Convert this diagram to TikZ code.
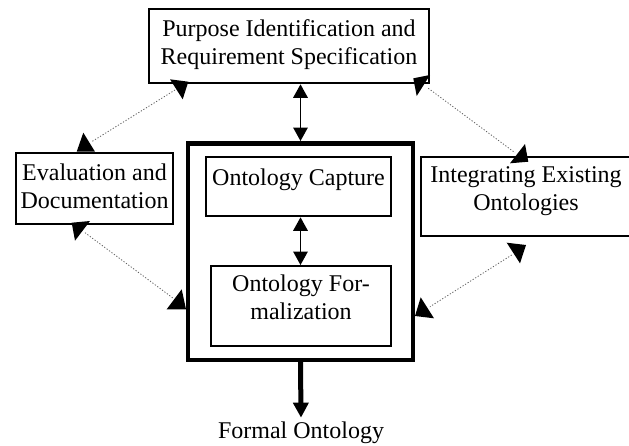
\documentclass[tikz,border=0pt]{standalone}
\usepackage{fontspec}
\setmainfont{Liberation Serif}
\usetikzlibrary{arrows.meta,calc}
\begin{document}
\begin{tikzpicture}[x=1pt,y=-1pt,
  txt/.style={font=\fontsize{24}{27.8}\selectfont},
  box/.style={txt,draw,line width=2.3pt,inner xsep=0pt,inner ysep=0pt,anchor=north,align=center},
  frame/.style={draw,line width=4.7pt,inner sep=0pt,anchor=north},
  dbl/.style={line width=1.6pt,{Triangle[length=13.5pt,width=14.5pt]}-{Triangle[length=13.5pt,width=14.5pt]}},
  outarrow/.style={line width=5pt,-{Triangle[length=15pt,width=15pt]}},
  dots/.style={line width=0.8pt,gray!75!black,dash pattern=on 1.2pt off 1.8pt},
  head/.style={fill=black}]
\useasboundingbox (0,0) rectangle (629,445);
\fill[white] (0,0) rectangle (629,445);
\clip (0,0) rectangle (629,445);

% boxes
\node[frame,minimum width=225pt,minimum height=216.5pt] (outer) at (300.5,141) {};
\node[box,minimum width=280pt,text height=55pt,text depth=19pt] (top) at (289,8)
  {Purpose Identification and\\Requirement Specification};
\node[box,minimum width=157pt,text height=55pt,text depth=16pt] (eval) at (94.5,152)
  {Evaluation and\\Documentation};
\node[box,minimum width=185pt,text height=28pt,text depth=31pt] (cap) at (298.5,156)
  {Ontology Capture};
\node[box,minimum width=180pt,text height=53pt,text depth=27pt] (form) at (301,265)
  {Ontology For-\\malization};
\node[box,minimum width=210pt,text height=53pt,text depth=26pt] (integ) at (526,156)
  {Integrating Existing\\Ontologies};
\node[txt,anchor=base,inner sep=3.5pt] (fo) at (301,438) {Formal Ontology};

% solid connectors
\draw[dbl] (outer.north |- top.south) -- (outer.north);
\draw[dbl] (outer.center |- cap.south) -- (outer.center |- form.north);
\draw[outarrow] (outer.south) -- (fo.north);

% dotted connectors
\coordinate (d1a) at (175,90);    \coordinate (d1b) at (91.7,141.7);
\coordinate (d2a) at (85,232.7);  \coordinate (d2b) at (173.3,298.3);
\coordinate (d3a) at (428.3,88.3);\coordinate (d3b) at (515,152.7);
\coordinate (d4a) at (511.7,255); \coordinate (d4b) at (430,306.7);
\draw[dots] (d1a) -- (d1b);
\draw[dots] (d2a) -- (d2b);
\draw[dots] (d3a) -- (d3b);
\draw[dots] (d4a) -- (d4b);

% arrowheads of the dotted connectors
\fill[head] (170,79.3) -- (188.3,81.7) -- (182.7,99.3) -- cycle;
\fill[head] (83.3,132.7) -- (76.7,151.7) -- (95,151.7) -- cycle;
\fill[head] (71.7,222.7) -- (90,221) -- (75,240.7) -- cycle;
\fill[head] (181.7,289.3) -- (166.7,309.3) -- (186,309.3) -- cycle;
\fill[head] (413.3,78.3) -- (430,75) -- (416.7,96) -- cycle;
\fill[head] (525,144) -- (510,163.3) -- (528.3,161.7) -- cycle;
\fill[head] (506.7,242.7) -- (526,245) -- (520,263.3) -- cycle;
\fill[head] (420.7,297.3) -- (415,316) -- (434,318.3) -- cycle;
\end{tikzpicture}
\end{document}
